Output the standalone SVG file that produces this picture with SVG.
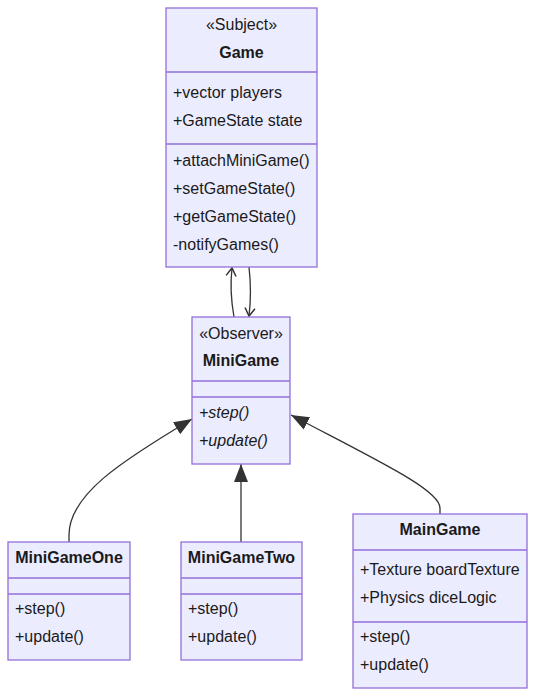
<svg xmlns="http://www.w3.org/2000/svg" width="535" height="697" viewBox="0 0 535 697">
<defs>
<style>
.box{fill:#ECECFF;stroke:#9370DB;stroke-width:1.3}
.div{stroke:#9370DB;stroke-width:1.3}
text{font-family:"Liberation Sans",Arial,sans-serif;font-size:16px;fill:#1a1a1a}
.b{font-weight:bold}
.i{font-style:italic}
.c{text-anchor:middle}
.edge{fill:none;stroke:#333;stroke-width:1.3}
</style>
<marker id="tri" markerUnits="userSpaceOnUse" markerWidth="20" markerHeight="16" refX="18" refY="7" orient="auto">
<path d="M0,0 L18,7 L0,14 z" fill="#333"/>
</marker>
<marker id="open" markerUnits="userSpaceOnUse" markerWidth="12" markerHeight="14" refX="9" refY="6" orient="auto">
<path d="M1,1 L9,6 L1,11" fill="none" stroke="#333" stroke-width="1.5"/>
</marker>
</defs>
<rect width="535" height="697" fill="#ffffff"/>
<g id="connectors">
<path class="edge" d="M234,317 C231,300 230,285 232,268" marker-end="url(#open)"/>
<path class="edge" d="M249,267 C251,285 251,300 249,316" marker-end="url(#open)"/>
<path class="edge" d="M69,542 L69,535 C69,495 120,462 192,419" marker-end="url(#tri)"/>
<path class="edge" d="M241,542 L241,464" marker-end="url(#tri)"/>
<path class="edge" d="M440,514 L440,508 C440,490 380,462 291,415" marker-end="url(#tri)"/>
</g>
<g id="Game">
<rect class="box" x="166" y="8" width="151" height="259"/>
<line class="div" x1="166" y1="72" x2="317" y2="72"/>
<line class="div" x1="166" y1="144" x2="317" y2="144"/>
<text class="c" x="241.5" y="30">«Subject»</text>
<text class="c b" x="241.5" y="58">Game</text>
<text x="173" y="98">+vector players</text>
<text x="173" y="126">+GameState state</text>
<text x="173" y="166">+attachMiniGame()</text>
<text x="173" y="194">+setGameState()</text>
<text x="173" y="222">+getGameState()</text>
<text x="173" y="250">-notifyGames()</text>
</g>
<g id="MiniGame">
<rect class="box" x="192" y="317" width="98" height="147"/>
<line class="div" x1="192" y1="381" x2="290" y2="381"/>
<line class="div" x1="192" y1="397" x2="290" y2="397"/>
<text class="c" x="241" y="339">«Observer»</text>
<text class="c b" x="241" y="366">MiniGame</text>
<text class="i" x="199" y="418">+step()</text>
<text class="i" x="199" y="446">+update()</text>
</g>
<g id="MiniGameOne">
<rect class="box" x="8" y="542" width="122" height="118"/>
<line class="div" x1="8" y1="578" x2="130" y2="578"/>
<line class="div" x1="8" y1="594" x2="130" y2="594"/>
<text class="c b" x="69" y="563">MiniGameOne</text>
<text x="15" y="614">+step()</text>
<text x="15" y="642">+update()</text>
</g>
<g id="MiniGameTwo">
<rect class="box" x="181" y="542" width="121" height="118"/>
<line class="div" x1="181" y1="578" x2="302" y2="578"/>
<line class="div" x1="181" y1="594" x2="302" y2="594"/>
<text class="c b" x="241.5" y="563">MiniGameTwo</text>
<text x="188" y="614">+step()</text>
<text x="188" y="642">+update()</text>
</g>
<g id="MainGame">
<rect class="box" x="353" y="514" width="174" height="174"/>
<line class="div" x1="353" y1="550" x2="527" y2="550"/>
<line class="div" x1="353" y1="622" x2="527" y2="622"/>
<text class="c b" x="440" y="535">MainGame</text>
<text x="360" y="575">+Texture boardTexture</text>
<text x="360" y="603">+Physics diceLogic</text>
<text x="360" y="642">+step()</text>
<text x="360" y="670">+update()</text>
</g>
</svg>
